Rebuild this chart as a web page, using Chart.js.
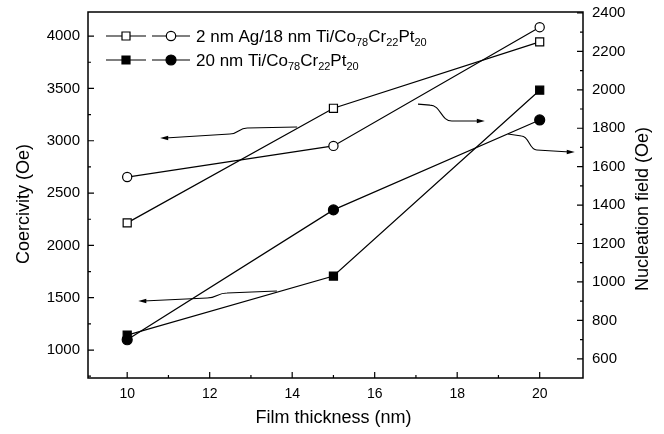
<!DOCTYPE html>
<html><head><meta charset="utf-8">
<script src="https://cdn.jsdelivr.net/npm/chart.js@4/dist/chart.umd.min.js"></script>
<style>html,body{margin:0;padding:0;background:#fff}</style>
</head><body>
<canvas id="c" width="664" height="434"></canvas>
<script>
// ---- data ----
const thickness = [10, 15, 20];                 // Film thickness (nm)
const coercAgTi = [2215, 3310, 3945];           // open squares, Coercivity (left axis)
const nuclAgTi  = [1546, 1708, 2326];           // open circles, Nucleation field (right axis)
const coercTi   = [1143, 1707, 3483];           // filled squares, Coercivity (left axis)
const nuclTi    = [699, 1375, 1843];            // filled circles, Nucleation field (right axis)
const xTicks     = [10, 12, 14, 16, 18, 20];
const leftTicks  = [1000, 1500, 2000, 2500, 3000, 3500, 4000];
const rightTicks = [600, 800, 1000, 1200, 1400, 1600, 1800, 2000, 2200, 2400];
const legendRows = [
  [["2 nm Ag/18 nm Ti/Co", 0], ["78", 1], ["Cr", 0], ["22", 1], ["Pt", 0], ["20", 1]],
  [["20 nm Ti/Co", 0], ["78", 1], ["Cr", 0], ["22", 1], ["Pt", 0], ["20", 1]]
];
const xTitle = "Film thickness (nm)";
const yTitle = "Coercivity (Oe)";
const y2Title = "Nucleation field (Oe)";
// arrows in (thickness, coercivity-axis) coordinates: start, bend start, bend end, tip
const arrows = [
  [[14.12, 3131], [12.91, 3121], [12.49, 3064], [10.80, 3026]],
  [[17.05, 3350], [17.34, 3340], [17.87, 3188], [18.67, 3188]],
  [[13.63, 1564], [12.42, 1545], [11.94, 1497], [10.27, 1468]],
  [[19.23, 3064], [19.56, 3045], [19.93, 2911], [20.85, 2892]]
];

const FONT = "'Liberation Sans', Arial, sans-serif";
const pts = ys => thickness.map((x, i) => ({x, y: ys[i]}));

const overlay = {
  id: 'overlay',
  beforeDatasetsDraw(chart) {
    const ctx = chart.ctx, xs = chart.scales.x, ys = chart.scales.y;
    ctx.save();
    ctx.strokeStyle = '#000'; ctx.fillStyle = '#000'; ctx.lineWidth = 1.1;
    arrows.forEach(a => {
      const p = a.map(([x, y]) => [xs.getPixelForValue(x), ys.getPixelForValue(y)]);
      ctx.beginPath();
      ctx.moveTo(p[0][0], p[0][1]);
      ctx.lineTo(p[1][0], p[1][1]);
      const mx = (p[1][0] + p[2][0]) / 2;
      ctx.bezierCurveTo(mx, p[1][1], mx, p[2][1], p[2][0], p[2][1]);
      const dir = Math.sign(p[3][0] - p[2][0]);
      ctx.lineTo(p[3][0] - dir * 5, p[3][1]);
      ctx.stroke();
      ctx.beginPath();
      ctx.moveTo(p[3][0], p[3][1]);
      ctx.lineTo(p[3][0] - dir * 8, p[3][1] - 2.3);
      ctx.lineTo(p[3][0] - dir * 8, p[3][1] + 2.3);
      ctx.closePath(); ctx.fill();
    });
    ctx.restore();
  },
  afterDraw(chart) {
    const ctx = chart.ctx, a = chart.chartArea;
    const xs = chart.scales.x, ys = chart.scales.y, y2 = chart.scales.y2;
    ctx.save();
    ctx.strokeStyle = '#000'; ctx.lineWidth = 1.5;
    ctx.strokeRect(a.left, a.top, a.right - a.left, a.bottom - a.top);
    ctx.lineWidth = 1.2;
    ctx.beginPath();
    xTicks.forEach((v, i) => {
      const px = xs.getPixelForValue(v);
      ctx.moveTo(px, a.bottom); ctx.lineTo(px, a.bottom - 6);
      if (i < xTicks.length - 1) {
        const m = xs.getPixelForValue((v + xTicks[i + 1]) / 2);
        ctx.moveTo(m, a.bottom); ctx.lineTo(m, a.bottom - 3);
      }
    });
    leftTicks.forEach(v => {
      const py = ys.getPixelForValue(v);
      ctx.moveTo(a.left, py); ctx.lineTo(a.left + 6, py);
      const m = ys.getPixelForValue(v - 250);
      if (m < a.bottom) { ctx.moveTo(a.left, m); ctx.lineTo(a.left + 3, m); }
    });
    rightTicks.forEach(v => {
      const py = y2.getPixelForValue(v);
      ctx.moveTo(a.right, py); ctx.lineTo(a.right - 6, py);
      const m = y2.getPixelForValue(v - 100);
      if (m < a.bottom) { ctx.moveTo(a.right, m); ctx.lineTo(a.right - 3, m); }
    });
    ctx.stroke();

    // axis titles
    ctx.fillStyle = '#000';
    ctx.font = '18px ' + FONT;
    ctx.textAlign = 'center'; ctx.textBaseline = 'middle';
    ctx.fillText(xTitle, (a.left + a.right) / 2 - 2, 418);
    ctx.save(); ctx.translate(24, 204); ctx.rotate(-Math.PI / 2); ctx.fillText(yTitle, 0, 0); ctx.restore();
    ctx.save(); ctx.translate(643, 209); ctx.rotate(-Math.PI / 2); ctx.fillText(y2Title, 0, 0); ctx.restore();

    // legend
    const rowsY = [36, 60];
    rowsY.forEach((ry, r) => {
      const filled = r === 1;
      ctx.lineWidth = 1.2;
      ctx.beginPath();
      ctx.moveTo(106, ry); ctx.lineTo(146, ry);
      ctx.moveTo(152, ry); ctx.lineTo(190, ry);
      ctx.stroke();
      ctx.fillStyle = filled ? '#000' : '#fff';
      ctx.beginPath(); ctx.rect(122, ry - 4, 8, 8); ctx.fill(); ctx.stroke();
      ctx.beginPath(); ctx.arc(171, ry, filled ? 5 : 4.7, 0, Math.PI * 2); ctx.fill(); ctx.stroke();
      ctx.fillStyle = '#000';
      ctx.textAlign = 'left'; ctx.textBaseline = 'alphabetic';
      let tx = 196;
      legendRows[r].forEach(([s, sub]) => {
        ctx.font = (sub ? '11px ' : '17px ') + FONT;
        ctx.fillText(s, tx, ry + 6 + (sub ? 4 : 0));
        tx += ctx.measureText(s).width;
      });
    });
    ctx.restore();
  }
};

const tickFont = {family: FONT, size: 15};
const plain = v => String(v);
const noPadV = s => { s.paddingTop = 0; s.paddingBottom = 0; };
new Chart(document.getElementById('c'), {
  type: 'line',
  data: {
    datasets: [
      {data: pts(coercAgTi), yAxisID: 'y', pointStyle: 'rect', pointRadius: 5.7,
       backgroundColor: '#fff', borderColor: '#000', borderWidth: 1.2, pointBorderWidth: 1.2},
      {data: pts(nuclAgTi), yAxisID: 'y2', pointStyle: 'circle', pointRadius: 4.6,
       backgroundColor: '#fff', borderColor: '#000', borderWidth: 1.2, pointBorderWidth: 1.2},
      {data: pts(coercTi), yAxisID: 'y', pointStyle: 'rect', pointRadius: 5.7,
       backgroundColor: '#000', borderColor: '#000', borderWidth: 1.2, pointBorderWidth: 1.2},
      {data: pts(nuclTi), yAxisID: 'y2', pointStyle: 'circle', pointRadius: 5,
       backgroundColor: '#000', borderColor: '#000', borderWidth: 1.2, pointBorderWidth: 1.2}
    ]
  },
  options: {
    responsive: false, animation: false, devicePixelRatio: 1,
    layout: {padding: {top: 12, left: 0, right: 0, bottom: 0}},
    plugins: {legend: {display: false}, tooltip: {enabled: false}},
    elements: {line: {tension: 0, fill: false}},
    scales: {
      x: {type: 'linear', min: 9.05, max: 21.05,
        grid: {display: false, drawTicks: false}, border: {display: false},
        ticks: {font: {family: FONT, size: 14}, color: '#000', padding: 8, callback: plain},
        afterBuildTicks: s => { s.ticks = xTicks.map(v => ({value: v})); },
        afterFit: s => { s.height = 56; s.paddingLeft = 0; s.paddingRight = 0; }},
      y: {type: 'linear', position: 'left', min: 733, max: 4230,
        grid: {display: false, drawTicks: false}, border: {display: false},
        ticks: {font: tickFont, color: '#000', padding: 8, callback: plain},
        afterBuildTicks: s => { s.ticks = leftTicks.map(v => ({value: v})); },
        afterFit: s => { s.width = 88; noPadV(s); }},
      y2: {type: 'linear', position: 'right', min: 500, max: 2405,
        grid: {display: false, drawTicks: false}, border: {display: false},
        ticks: {font: tickFont, color: '#000', padding: 9, callback: plain},
        afterBuildTicks: s => { s.ticks = rightTicks.map(v => ({value: v})); },
        afterFit: s => { s.width = 81; noPadV(s); }}
    }
  },
  plugins: [overlay]
});
</script>
</body></html>
